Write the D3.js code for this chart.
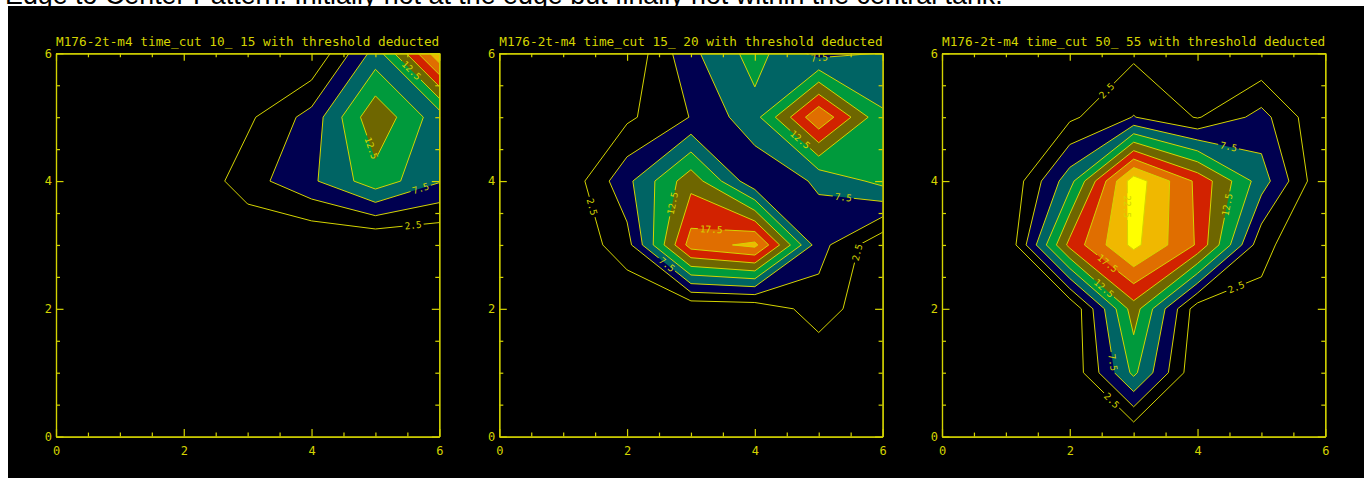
<!DOCTYPE html>
<html>
<head>
<meta charset="utf-8">
<script src="https://cdn.jsdelivr.net/npm/d3@7"></script>
<style>
  html, body { margin: 0; padding: 0; background: #fff; }
  svg { display: block; }
</style>
</head>
<body>
<svg id="chart" width="1364" height="478"></svg>
<script>
// ---------------------------------------------------------------------------
// Text
const pageTitle = "Edge to Center Pattern: Initially not at the edge but finally not within the central tank.";
const panelTitles = [
  "M176-2t-m4 time_cut 10_ 15 with threshold deducted",
  "M176-2t-m4 time_cut 15_ 20 with threshold deducted",
  "M176-2t-m4 time_cut 50_ 55 with threshold deducted"
];

// Grid coordinates (7 x 7 detector cells) and axis ticks
const xGrid = [0, 1, 2, 3, 4, 5, 6];
const yGrid = [0, 1, 2, 3, 4, 5, 6];
const majorTicks = [0, 2, 4, 6];
const minorTicks = [0.5, 1, 1.5, 2.5, 3, 3.5, 4.5, 5, 5.5];

// Contour levels; the first one is drawn as a line only
const levels = [2.5, 5, 7.5, 10, 12.5, 15, 17.5, 20, 22.5];
const bandColors = [null, "#000050", "#006464", "#009a3c", "#6e6600",
                    "#d22200", "#e06e00", "#f0b800", "#ffff00"];

// Signal per cell after threshold subtraction; rows run from y = 6 (top) to y = 0
const cut10to15 = [
  [0, 0, 0,   0,    0,     8.5,  22  ],
  [0, 0, 0.5, 2.0,  5.95,  14.5, 8.5 ],
  [0, 0, 0,   3.9,  7.05,  11.5, 7.7 ],
  [0, 0, 0,   0,   -0.25, -0.5, -0.3 ],
  [0, 0, 0,   0,    0,     0,    0   ],
  [0, 0, 0,   0,    0,     0,    0   ],
  [0, 0, 0,   0,    0,     0,    0   ]
];
const cut15to20 = [
  [0, 0,    0.33, 6.9,  11,   6.6,  7.6 ],
  [0, 0,    2.0,  5.1,  9.1,  19.7, 10.4],
  [0, 0.27, 6.84, 14.1, 5.5,  7.9,  10.8],
  [0, 0.1,  3.97, 18.7, 20.7, 6.0,  0.45],
  [0, 0,    0.2,  0.2,  0.5,  3.8,  0.38],
  [0, 0,    0,    0,    0,    0.29, 0   ],
  [0, 0,    0,    0,    0,    0,    0   ]
];
const cut50to55 = [
  [0, 0, 0,    2.0,  0,    0,   0  ],
  [0, 0, 2.0,  5.1,  2.3,  5.9, 0  ],
  [0, 0, 9.0,  24.0, 16.9, 8.7, 0.1],
  [0, 0, 15.8, 23.2, 17.2, 3.2, 0  ],
  [0, 0, 0,    13.8, 1.0,  1.8, 0  ],
  [0, 0, 0.3,  10.6, 0.3,  0,   0  ],
  [0, 0, 0,    0.1,  0,    0,   0  ]
];

// Where each level label sits along its contour (data units)
const labelAnchors10to15 = [
  { level: 12.5, x: 5.57, y: 5.74 },
  { level: 12.5, x: 4.86, y: 4.49 },
  { level: 7.5,  x: 5.70, y: 3.91 },
  { level: 2.5,  x: 5.59, y: 3.31 }
];
const labelAnchors15to20 = [
  { level: 7.5,  x: 5.02, y: 5.80 },
  { level: 12.5, x: 4.70, y: 4.64 },
  { level: 7.5,  x: 5.38, y: 3.70 },
  { level: 2.5,  x: 1.47, y: 3.60 },
  { level: 12.5, x: 2.72, y: 3.65 },
  { level: 17.5, x: 3.32, y: 3.29 },
  { level: 7.5,  x: 2.62, y: 2.69 },
  { level: 2.5,  x: 5.54, y: 2.90 }
];
const labelAnchors50to55 = [
  { level: 2.5,  x: 2.56, y: 5.43 },
  { level: 7.5,  x: 4.49, y: 4.56 },
  { level: 12.5, x: 4.47, y: 3.63 },
  { level: 22.5, x: 2.90, y: 3.60 },
  { level: 17.5, x: 2.59, y: 2.71 },
  { level: 12.5, x: 2.53, y: 2.32 },
  { level: 7.5,  x: 2.61, y: 1.15 },
  { level: 2.5,  x: 2.64, y: 0.55 },
  { level: 2.5,  x: 4.60, y: 2.35 }
];

const panels = [
  { title: panelTitles[0], grid: cut10to15, labels: labelAnchors10to15 },
  { title: panelTitles[1], grid: cut15to20, labels: labelAnchors15to20 },
  { title: panelTitles[2], grid: cut50to55, labels: labelAnchors50to55 }
];

// ---------------------------------------------------------------------------
// Layout
const W = 1364, H = 478;
const panelLeft = [56, 499.3, 942];
const plotTop = 53.3;
const plotSize = 383.3;
const INK = "#d4d400";
const MONO = "'DejaVu Sans Mono', 'Liberation Mono', monospace";

const svg = d3.select("#chart");
const defs = svg.append("defs");

svg.append("rect").attr("width", W).attr("height", H).attr("fill", "#fff");
svg.append("rect").attr("x", 8).attr("y", 6).attr("width", W - 8).attr("height", H - 6).attr("fill", "#000");

// Page heading (sits above the plot canvas)
const heading = svg.append("text")
  .attr("x", 5).attr("y", 4)
  .attr("font-family", "'Liberation Sans', Arial, sans-serif")
  .attr("font-size", 22)
  .attr("fill", "#000")
  .text(pageTitle);
{
  const len = heading.node().getComputedTextLength();
  if (len > 0) heading.attr("font-size", 22 * 998 / len);
}

function ringPoints(ring, x, y) {
  return ring.map(p => [x(p[0] - 0.5), y(p[1] - 0.5)]);
}

function contourPath(multi, x, y) {
  let d = "";
  multi.coordinates.forEach(poly => poly.forEach(ring => {
    const pts = ringPoints(ring, x, y);
    d += "M" + pts.map(p => p[0].toFixed(2) + "," + p[1].toFixed(2)).join("L") + "Z";
  }));
  return d;
}

// Nearest point on a contour to an anchor, with the local line direction
function snapToContour(multi, ax, ay, x, y) {
  const px = x(ax), py = y(ay);
  let best = null;
  multi.coordinates.forEach(poly => poly.forEach(ring => {
    const pts = ringPoints(ring, x, y);
    for (let i = 0; i < pts.length - 1; i++) {
      const [x1, y1] = pts[i], [x2, y2] = pts[i + 1];
      const mx = (x1 + x2) / 2, my = (y1 + y2) / 2;
      if (mx < 0 || mx > plotSize || my < 0 || my > plotSize) continue;
      const dx = x2 - x1, dy = y2 - y1, L2 = dx * dx + dy * dy;
      if (L2 === 0) continue;
      let t = ((px - x1) * dx + (py - y1) * dy) / L2;
      t = Math.max(0, Math.min(1, t));
      const qx = x1 + t * dx, qy = y1 + t * dy;
      const dist = (qx - px) ** 2 + (qy - py) ** 2;
      if (!best || dist < best.dist) best = { dist, qx, qy, ang: Math.atan2(dy, dx) * 180 / Math.PI };
    }
  }));
  if (!best) return { qx: px, qy: py, ang: 0 };
  let a = best.ang;
  if (a > 90) a -= 180;
  if (a <= -90) a += 180;
  best.ang = a;
  return best;
}

function fmtLevel(v) { return d3.format(".1f")(v); }

panels.forEach((panel, k) => {
  const g = svg.append("g").attr("transform", `translate(${panelLeft[k]},${plotTop})`);
  const x = d3.scaleLinear().domain([xGrid[0], xGrid[xGrid.length - 1]]).range([0, plotSize]);
  const y = d3.scaleLinear().domain([yGrid[0], yGrid[yGrid.length - 1]]).range([plotSize, 0]);

  // flatten: index = i + j * nx with j counting up from y = 0
  const nx = xGrid.length, ny = yGrid.length;
  const values = [];
  for (let j = 0; j < ny; j++) for (let i = 0; i < nx; i++) values.push(panel.grid[ny - 1 - j][i]);
  const contours = d3.contours().size([nx, ny]).thresholds(levels)(values);

  const clipId = "plotclip" + k;
  defs.append("clipPath").attr("id", clipId)
    .append("rect").attr("x", 0).attr("y", 0).attr("width", plotSize).attr("height", plotSize);

  // filled bands
  const fills = g.append("g").attr("clip-path", `url(#${clipId})`);
  contours.forEach((c, i) => {
    if (!bandColors[i]) return;
    fills.append("path")
      .attr("d", contourPath(c, x, y))
      .attr("fill", bandColors[i])
      .attr("fill-rule", "evenodd");
  });

  // label placement along contour lines
  const placed = panel.labels.map(lab => {
    const ci = levels.indexOf(lab.level);
    const s = snapToContour(contours[ci], lab.x, lab.y, x, y);
    return { text: fmtLevel(lab.level), x: s.qx, y: s.qy, ang: s.ang };
  });

  // gaps in the lines under the labels
  const maskId = "labelgap" + k;
  const mask = defs.append("mask").attr("id", maskId).attr("maskUnits", "userSpaceOnUse")
    .attr("x", -20).attr("y", -20).attr("width", plotSize + 40).attr("height", plotSize + 40);
  mask.append("rect").attr("x", -20).attr("y", -20).attr("width", plotSize + 40).attr("height", plotSize + 40).attr("fill", "#fff");

  const labelLayer = g.append("g");
  placed.forEach(p => {
    const t = labelLayer.append("text")
      .attr("transform", `translate(${p.x},${p.y}) rotate(${p.ang})`)
      .attr("text-anchor", "middle")
      .attr("dy", "0.36em")
      .attr("font-family", MONO)
      .attr("font-size", 9.5)
      .attr("fill", INK)
      .text(p.text);
    const len = t.node().getComputedTextLength() || 20;
    mask.append("rect")
      .attr("transform", `translate(${p.x},${p.y}) rotate(${p.ang})`)
      .attr("x", -len / 2 - 2).attr("y", -4.5)
      .attr("width", len + 4).attr("height", 9)
      .attr("fill", "#000");
  });

  // contour lines
  const lines = g.insert("g", () => labelLayer.node()).attr("clip-path", `url(#${clipId})`)
    .append("g").attr("mask", `url(#${maskId})`);
  contours.forEach(c => {
    lines.append("path")
      .attr("d", contourPath(c, x, y))
      .attr("fill", "none")
      .attr("stroke", INK)
      .attr("stroke-width", 1)
      .attr("stroke-linejoin", "round");
  });

  // axes: ticks point inward on all four sides
  const styleAxis = sel => {
    sel.selectAll("path, line").attr("stroke", INK).attr("stroke-width", 1.2);
    sel.selectAll("text").attr("fill", INK).attr("font-family", MONO).attr("font-size", 12);
  };
  const fmt = d => String(d);
  g.append("g").attr("transform", `translate(0,${plotSize})`)
    .call(d3.axisBottom(x).tickValues(majorTicks).tickFormat(fmt).tickSize(-7.5).tickSizeOuter(0).tickPadding(9.5))
    .call(styleAxis);
  g.append("g").attr("transform", `translate(0,${plotSize})`)
    .call(d3.axisBottom(x).tickValues(minorTicks).tickFormat("").tickSize(-4).tickSizeOuter(0))
    .call(styleAxis);
  g.append("g")
    .call(d3.axisLeft(y).tickValues(majorTicks).tickFormat(fmt).tickSize(-7.5).tickSizeOuter(0).tickPadding(4))
    .call(styleAxis);
  g.append("g")
    .call(d3.axisLeft(y).tickValues(minorTicks).tickFormat("").tickSize(-4).tickSizeOuter(0))
    .call(styleAxis);
  g.append("g")
    .call(d3.axisTop(x).tickValues(majorTicks).tickFormat("").tickSize(-7.5).tickSizeOuter(0))
    .call(styleAxis);
  g.append("g")
    .call(d3.axisTop(x).tickValues(minorTicks).tickFormat("").tickSize(-4).tickSizeOuter(0))
    .call(styleAxis);
  g.append("g").attr("transform", `translate(${plotSize},0)`)
    .call(d3.axisRight(y).tickValues(majorTicks).tickFormat("").tickSize(-7.5).tickSizeOuter(0))
    .call(styleAxis);
  g.append("g").attr("transform", `translate(${plotSize},0)`)
    .call(d3.axisRight(y).tickValues(minorTicks).tickFormat("").tickSize(-4).tickSizeOuter(0))
    .call(styleAxis);

  // panel title
  g.append("text")
    .attr("x", plotSize / 2).attr("y", 46 - plotTop)
    .attr("text-anchor", "middle")
    .attr("font-family", MONO)
    .attr("font-size", 13)
    .attr("textLength", plotSize)
    .attr("lengthAdjust", "spacingAndGlyphs")
    .attr("fill", INK)
    .text(panel.title);
});
</script>
</body>
</html>
